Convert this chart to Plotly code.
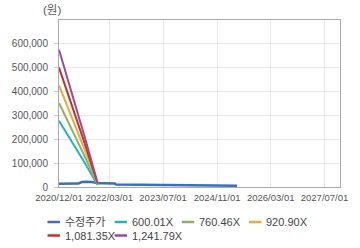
import plotly.graph_objects as go

# Adjusted price (수정주가)
price_dates = ["2020-12-01", "2021-02-01", "2021-04-01", "2021-05-25", "2021-06-25",
               "2021-08-01", "2021-09-25", "2021-11-20", "2022-01-01", "2022-04-20",
               "2022-05-01", "2023-01-01", "2023-10-01", "2024-02-20", "2024-03-01",
               "2024-10-01", "2025-05-01"]
price_vals = [13800, 13500, 14000, 14500, 21000,
              22500, 21000, 15500, 15500, 15000,
              10000, 9800, 9500, 9300, 6500,
              6300, 5500]

# PER band lines
band_dates = ["2020-12-01", "2021-01-01", "2021-02-01", "2021-03-01", "2021-04-01",
              "2021-05-01", "2021-06-01", "2021-07-01", "2021-08-01", "2021-09-01",
              "2021-10-01", "2021-11-01", "2021-11-15"]
band_600 = [277800, 255000, 231000, 210000, 186000, 163200, 139200, 117000, 93000, 69600, 46800, 24000, 8400]
band_760 = [352100, 323200, 292800, 266200, 235700, 206800, 176400, 148300, 117900, 88200, 59300, 30400, 10600]
band_921 = [426400, 391400, 354500, 322300, 285500, 250500, 213600, 179600, 142700, 106800, 71800, 36800, 12900]
band_1081 = [500700, 459600, 416300, 378500, 335200, 294100, 250900, 210900, 167600, 125400, 84300, 43300, 15100]
band_1242 = [575000, 527800, 478100, 434600, 385000, 337800, 288100, 242100, 192500, 144000, 96900, 49700, 17400]

band_names = ["600.01X", "760.46X", "920.90X", "1,081.35X", "1,241.79X"]
band_series = [band_600, band_760, band_921, band_1081, band_1242]
band_colors = ["#1fb5c2", "#8fb35a", "#f0a93a", "#c7302b", "#8f4e9f"]
price_name = "수정주가"
price_color = "#3a70b8"

x_ticks = ["2020-12-01", "2022-03-01", "2023-07-01", "2024-11-01", "2026-03-01", "2027-07-01"]
x_tick_text = ["2020/12/01", "2022/03/01", "2023/07/01", "2024/11/01", "2026/03/01", "2027/07/01"]
y_ticks = [0, 100000, 200000, 300000, 400000, 500000, 600000]

W, H = 360, 248
L, R, T, B = 49, 18, 20, 61
PW, PH = W - L - R, H - T - B

fig = go.Figure()
fig.add_trace(go.Scatter(x=price_dates, y=price_vals, mode="lines", name=price_name,
                         line=dict(color=price_color, width=2.5)))
for name, vals, col in zip(band_names, band_series, band_colors):
    fig.add_trace(go.Scatter(x=band_dates, y=vals, mode="lines", name=name,
                             line=dict(color=col, width=2)))

# custom legend (short line symbols like the reference)
legend_names = [price_name] + band_names
legend_colors = [price_color] + band_colors
shapes, annotations = [], []
for i, (nm, col) in enumerate(zip(legend_names, legend_colors)):
    row, colidx = divmod(i, 4)
    px = 37 + 70 * colidx
    py = 222 + 13.5 * row
    x0 = (px - L) / PW
    x1 = (px + 13 - L) / PW
    yy = (H - B - py) / PH
    shapes.append(dict(type="line", xref="paper", yref="paper", x0=x0, x1=x1, y0=yy, y1=yy,
                       line=dict(color=col, width=2.5)))
    annotations.append(dict(text=nm, xref="paper", yref="paper", x=(px + 16 - L) / PW, y=yy,
                            xanchor="left", yanchor="middle", showarrow=False,
                            font=dict(size=11, color="#444")))
annotations.append(dict(text="(원)", xref="paper", yref="paper", x=(42 - L) / PW,
                        y=(H - B - 10) / PH, xanchor="center", yanchor="middle",
                        showarrow=False, font=dict(size=11.5, color="#555")))

fig.update_layout(
    width=W, height=H,
    margin=dict(l=L, r=R, t=T, b=B),
    paper_bgcolor="white", plot_bgcolor="white",
    font=dict(family="Liberation Sans, Arial, Noto Sans CJK KR, sans-serif", size=10, color="#555"),
    showlegend=False,
    shapes=shapes, annotations=annotations,
)
fig.update_xaxes(type="date", range=["2020-12-01", "2027-11-18"],
                 tickvals=x_ticks, ticktext=x_tick_text, tickangle=0,
                 showgrid=True, gridcolor="#e8e8e8", gridwidth=1,
                 showline=True, linecolor="#aaa", linewidth=1, mirror=True,
                 ticks="", tickfont=dict(size=9.5, color="#555"), zeroline=False,
                 ticklabelstandoff=2)
fig.update_yaxes(range=[0, 700000], tickvals=y_ticks, tickformat=",",
                 showgrid=True, gridcolor="#e8e8e8", gridwidth=1,
                 showline=True, linecolor="#aaa", linewidth=1, mirror=True,
                 ticks="outside", ticklen=4, tickcolor="#ccc",
                 tickfont=dict(size=10, color="#555"), zeroline=False,
                 ticklabelstandoff=4)

fig.write_html("out.html")
